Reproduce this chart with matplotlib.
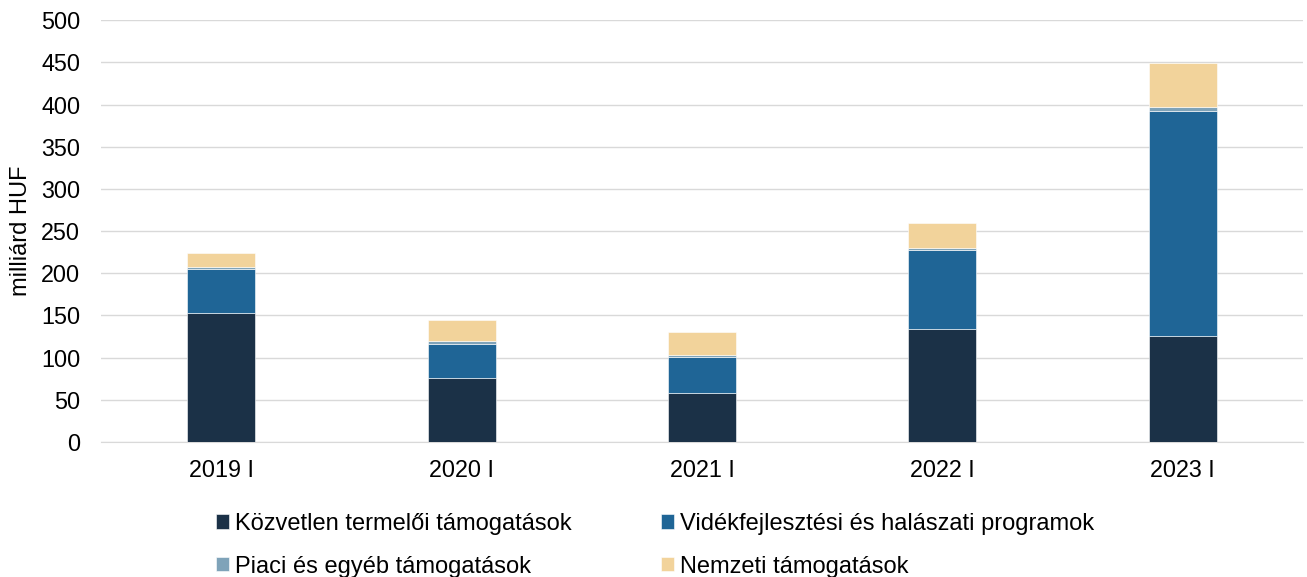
import matplotlib.pyplot as plt
import numpy as np

plt.rcParams['font.family'] = ['Liberation Sans', 'DejaVu Sans']

years = ['2019 I', '2020 I', '2021 I', '2022 I', '2023 I']
kozvetlen = [153, 75.5, 58, 134, 125.5]
videk = [52, 40.5, 43, 93, 267]
piaci = [3, 3.5, 2, 3, 4.7]
nemzeti = [16, 25, 27, 30, 52.6]

series = [
    ('Közvetlen termelői támogatások', kozvetlen, '#1B3147'),
    ('Vidékfejlesztési és halászati programok', videk, '#1F6596'),
    ('Piaci és egyéb támogatások', piaci, '#7FA3B9'),
    ('Nemzeti támogatások', nemzeti, '#F2D39B'),
]

fig = plt.figure(figsize=(13.07, 5.77), dpi=100)
ax = fig.add_axes([0.0773, 0.234, 0.9197, 0.731])

x = np.arange(len(years))
bottom = np.zeros(len(years))
for label, vals, color in series:
    ax.bar(x, vals, width=0.283, bottom=bottom, color=color, label=label,
           edgecolor='white', linewidth=0.4, zorder=3)
    bottom += np.array(vals)

ax.set_xlim(-0.5, len(years) - 0.5)
ax.set_ylim(0, 500)
ax.set_yticks(np.arange(0, 501, 50))
ax.set_xticks(x)
ax.set_xticklabels(years)
ax.tick_params(axis='both', length=0, labelsize=16.8, colors='black')
ax.tick_params(axis='x', pad=12)
ax.tick_params(axis='y', pad=15)
ax.grid(axis='y', color='#D9D9D9', linewidth=1, zorder=0)
for side in ['top', 'right', 'left']:
    ax.spines[side].set_visible(False)
ax.spines['bottom'].set_color('#D9D9D9')
ax.set_ylabel('milliárd HUF', fontsize=17)
ax.yaxis.set_label_coords(-0.0575, 0.5)

# row-major legend: reorder handles for matplotlib's column-major fill
handles, labels = ax.get_legend_handles_labels()
order = [0, 2, 1, 3]
fig.legend([handles[i] for i in order], [labels[i] for i in order],
           loc='upper left', bbox_to_anchor=(0.165, 0.111), ncol=2, frameon=False,
           fontsize=17, handlelength=0.55, handleheight=0.55, handletextpad=0.25,
           columnspacing=3.8, labelspacing=0.88, borderaxespad=0, borderpad=0)

plt.savefig('out.png', dpi=100, facecolor='white')
plt.close()
